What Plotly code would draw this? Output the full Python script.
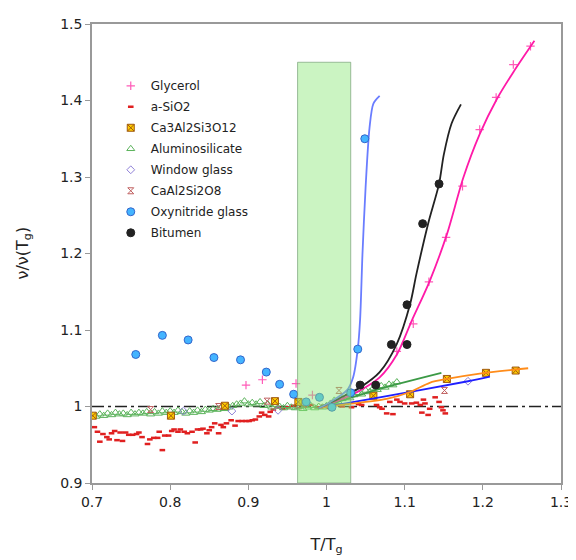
import plotly.graph_objects as go

# ---------------- data ----------------
gly_x = [0.897, 0.918, 0.961, 0.982, 1.090, 1.111, 1.131, 1.153, 1.174, 1.196, 1.217, 1.239, 1.261]
gly_y = [1.028, 1.035, 1.030, 1.015, 1.072, 1.108, 1.163, 1.221, 1.288, 1.362, 1.404, 1.447, 1.471]

sio2_x = [0.703, 0.707, 0.710, 0.714, 0.719, 0.722, 0.725, 0.729, 0.732, 0.736, 0.739, 0.743, 0.747,
          0.752, 0.757, 0.760, 0.764, 0.771, 0.774, 0.779, 0.784, 0.786, 0.790, 0.793, 0.798, 0.802,
          0.805, 0.810, 0.813, 0.818, 0.822, 0.828, 0.832, 0.835, 0.839, 0.842, 0.847, 0.850, 0.853,
          0.857, 0.862, 0.865, 0.868, 0.872, 0.878, 0.883, 0.887, 0.892, 0.897, 0.901, 0.905, 0.909,
          0.914, 0.917, 0.921, 0.926, 0.928, 0.932, 0.938, 0.944, 0.951, 0.958, 0.965, 0.972, 0.980,
          0.988, 0.996, 1.004, 1.012, 1.020, 1.032, 1.041, 1.045, 1.064, 1.068, 1.071, 1.077, 1.081,
          1.085, 1.090, 1.094, 1.100, 1.109, 1.115, 1.120, 1.122, 1.124, 1.126, 1.130, 1.132, 1.139,
          1.144, 1.147, 1.149, 1.152]
sio2_y = [0.973, 0.967, 0.954, 0.964, 0.960, 0.957, 0.965, 0.968, 0.956, 0.966, 0.955, 0.966, 0.963,
          0.963, 0.964, 0.966, 0.960, 0.951, 0.957, 0.959, 0.959, 0.967, 0.943, 0.962, 0.962, 0.968,
          0.970, 0.967, 0.970, 0.967, 0.965, 0.967, 0.953, 0.970, 0.970, 0.971, 0.965, 0.969, 0.973,
          0.978, 0.965, 0.976, 0.973, 0.978, 0.982, 0.975, 0.981, 0.981, 0.981, 0.981, 0.982, 0.983,
          0.987, 0.992, 0.989, 0.987, 0.993, 0.996, 0.999, 0.997, 0.999, 1.001, 0.998, 1.000, 1.002,
          0.999, 1.001, 0.998, 1.002, 1.000, 0.999, 1.003, 1.002, 1.002, 0.999, 0.997, 0.991, 1.006,
          0.990, 1.009, 1.006, 1.004, 1.004, 1.005, 1.002, 0.992, 1.009, 1.004, 0.989, 0.997, 1.012,
          1.006, 0.999, 0.995, 0.991]

ca3_x = [0.701, 0.801, 0.870, 0.934, 0.964, 1.060, 1.107, 1.154, 1.204, 1.242]
ca3_y = [0.988, 0.988, 1.001, 1.007, 1.006, 1.014, 1.016, 1.036, 1.044, 1.047]

alu_x = [0.700, 0.705, 0.710, 0.715, 0.720, 0.725, 0.730, 0.735, 0.740, 0.745, 0.750, 0.755, 0.760,
         0.765, 0.770, 0.775, 0.780, 0.785, 0.790, 0.795, 0.800, 0.805, 0.810, 0.815, 0.820, 0.825,
         0.830, 0.835, 0.840, 0.845, 0.850, 0.855, 0.860, 0.865, 0.870, 0.875, 0.880, 0.885, 0.890,
         0.895, 0.900, 0.905, 0.910, 0.915, 0.920, 0.925, 0.930, 0.935, 0.940, 0.945, 0.950, 0.955,
         0.960, 0.965, 0.970, 0.975, 0.980, 0.985, 0.990, 0.995, 1.000, 1.005, 1.010, 1.015, 1.020,
         1.025, 1.030, 1.035, 1.040, 1.045, 1.050, 1.055, 1.060, 1.065, 1.070, 1.075, 1.080, 1.085,
         1.090]
alu_y = [0.988, 0.987, 0.990, 0.988, 0.991, 0.989, 0.992, 0.990, 0.991, 0.989, 0.992, 0.990, 0.992,
         0.991, 0.993, 0.990, 0.993, 0.991, 0.994, 0.992, 0.994, 0.992, 0.995, 0.993, 0.991, 0.994,
         0.992, 0.995, 0.993, 0.996, 0.995, 0.997, 0.996, 0.998, 0.997, 0.999, 1.001, 1.003, 1.004,
         1.007, 1.003, 1.005, 1.003, 1.006, 1.001, 1.003, 0.999, 1.002, 1.000, 0.998, 1.001, 0.999,
         0.998, 1.000, 0.997, 0.999, 1.001, 0.998, 1.000, 0.999, 1.001, 1.004, 1.008, 1.006, 1.010,
         1.012, 1.011, 1.015, 1.018, 1.016, 1.021, 1.019, 1.024, 1.022, 1.027, 1.025, 1.029, 1.028,
         1.032]

win_x = [0.817, 0.879, 0.938, 1.181]
win_y = [0.994, 0.994, 0.995, 1.033]

caal_x = [0.775, 0.862, 0.924, 1.016, 1.151]
caal_y = [0.996, 1.000, 1.007, 1.021, 1.021]

oxy_x = [0.756, 0.790, 0.823, 0.856, 0.890, 0.923, 0.940, 0.958, 0.974, 0.991, 1.007, 1.031, 1.040, 1.049]
oxy_y = [1.068, 1.093, 1.087, 1.064, 1.061, 1.045, 1.029, 1.016, 1.006, 1.012, 0.999, 1.018, 1.075, 1.350]

bit_x = [1.043, 1.063, 1.083, 1.103, 1.103, 1.123, 1.144]
bit_y = [1.028, 1.028, 1.081, 1.081, 1.133, 1.239, 1.291]

# fitted curves
fit_gly_x = [0.990, 1.020, 1.043, 1.068, 1.090, 1.109, 1.132, 1.154, 1.175, 1.196, 1.218, 1.239, 1.266]
fit_gly_y = [0.998, 1.010, 1.021, 1.038, 1.068, 1.112, 1.164, 1.225, 1.299, 1.356, 1.402, 1.437, 1.478]

fit_bit_x = [0.990, 1.017, 1.043, 1.068, 1.090, 1.107, 1.115, 1.130, 1.144, 1.150, 1.160, 1.172]
fit_bit_y = [0.998, 1.011, 1.025, 1.045, 1.082, 1.134, 1.173, 1.239, 1.291, 1.329, 1.370, 1.395]

fit_oxy_x = [0.990, 1.005, 1.026, 1.034, 1.040, 1.043, 1.046, 1.050, 1.055, 1.060, 1.068]
fit_oxy_y = [0.998, 1.006, 1.021, 1.038, 1.075, 1.114, 1.199, 1.286, 1.364, 1.396, 1.406]

fit_ca3_x = [0.990, 1.026, 1.077, 1.107, 1.132, 1.154, 1.196, 1.258]
fit_ca3_y = [0.998, 1.003, 1.010, 1.019, 1.031, 1.036, 1.043, 1.050]

fit_win_x = [0.990, 1.068, 1.181, 1.209]
fit_win_y = [0.998, 1.012, 1.033, 1.039]

fit_alu_x = [0.990, 1.068, 1.147]
fit_alu_y = [0.998, 1.023, 1.044]

x_ticks = [0.7, 0.8, 0.9, 1.0, 1.1, 1.2, 1.3]
x_tick_labels = ["0.7", "0.8", "0.9", "1", "1.1", "1.2", "1.3"]
y_ticks = [0.9, 1.0, 1.1, 1.2, 1.3, 1.4, 1.5]
y_tick_labels = ["0.9", "1", "1.1", "1.2", "1.3", "1.4", "1.5"]

FONT = "DejaVu Sans"

fig = go.Figure()

def mk(x, y, name, marker, rank):
    fig.add_trace(go.Scatter(x=x, y=y, mode="markers", name=name, marker=marker,
                             legendrank=rank, legendgroup=name))

mk(sio2_x, sio2_y, "a-SiO2",
   dict(symbol="line-ew", size=4, color="#e02020", line=dict(color="#e02020", width=2.5)), 2)
mk(alu_x, alu_y, "Aluminosilicate",
   dict(symbol="triangle-up-open", size=7, color="#5cb35c", line=dict(width=1)), 4)
mk(win_x, win_y, "Window glass",
   dict(symbol="diamond-open", size=6, color="#8f80d8", line=dict(width=1)), 5)
mk(caal_x, caal_y, "CaAl2Si2O8",
   dict(symbol="hourglass-open", size=6, color="#c06060", line=dict(width=1)), 6)
mk(gly_x, gly_y, "Glycerol",
   dict(symbol="cross-thin-open", size=6, color="#ff5cb8", line=dict(width=1.2)), 1)
mk(ca3_x, ca3_y, "Ca3Al2Si3O12",
   dict(symbol="square-x", size=7, color="#ffcc00", line=dict(color="#a05a10", width=1)), 3)

def fit(x, y, color, w=1.8):
    fig.add_trace(go.Scatter(x=x, y=y, mode="lines", showlegend=False,
                             line=dict(color=color, width=w, shape="spline", smoothing=0.8),
                             hoverinfo="skip"))

fit(fit_alu_x, fit_alu_y, "#3c9a46")
fit(fit_win_x, fit_win_y, "#1f1fff")
fit(fit_ca3_x, fit_ca3_y, "#ff8c1a")
fit(fit_gly_x, fit_gly_y, "#ff1aa8")
fit(fit_bit_x, fit_bit_y, "#222222")
fit(fit_oxy_x, fit_oxy_y, "#6a7dff")

mk(oxy_x, oxy_y, "Oxynitride glass",
   dict(symbol="circle", size=8, color="#44b4ff", line=dict(color="#3366cc", width=1)), 7)
mk(bit_x, bit_y, "Bitumen",
   dict(symbol="circle", size=8, color="#222222", line=dict(color="#222222", width=1)), 8)

# reference line at 1 and shaded region
fig.add_shape(type="line", x0=0.7, x1=1.3, y0=1, y1=1, xref="x", yref="y",
              line=dict(color="#222222", width=1.5, dash="12px,4px,3px,4px"), layer="below")
fig.add_shape(type="rect", x0=0.963, x1=1.031, y0=0.9, y1=1.45, xref="x", yref="y",
              fillcolor="rgba(140,230,120,0.45)",
              line=dict(color="rgba(120,160,120,0.7)", width=1), layer="above")

axis_common = dict(showgrid=False, zeroline=False, showline=True, linecolor="#999999",
                   linewidth=1.5, mirror=True, ticks="outside", ticklen=5,
                   tickcolor="#999999", tickfont=dict(family=FONT, size=14, color="#222"))

fig.update_xaxes(range=[0.7, 1.3], tickvals=x_ticks, ticktext=x_tick_labels,
                 title=dict(text="T/T<sub>g</sub>", font=dict(family=FONT, size=16, color="#222"),
                            standoff=30), **axis_common)
fig.update_yaxes(range=[0.9, 1.5], tickvals=y_ticks, ticktext=y_tick_labels, **axis_common)

fig.add_annotation(text="ν/ν(T<sub>g</sub>)", xref="paper", yref="paper", x=0, y=0.5,
                   xanchor="center", yanchor="middle", xshift=-69, textangle=-90,
                   showarrow=False, font=dict(family=FONT, size=16, color="#222"))

fig.update_layout(
    width=576, height=560,
    margin=dict(l=84, r=23, t=8, b=85),
    plot_bgcolor="white", paper_bgcolor="white",
    font=dict(family=FONT, color="#222"),
    showlegend=True,
    legend=dict(x=0.04, y=0.897, xanchor="left", yanchor="top",
                font=dict(family=FONT, size=12, color="#222"),
                bgcolor="rgba(0,0,0,0)", itemwidth=30, tracegroupgap=2),
)

fig.write_html("out.html")
